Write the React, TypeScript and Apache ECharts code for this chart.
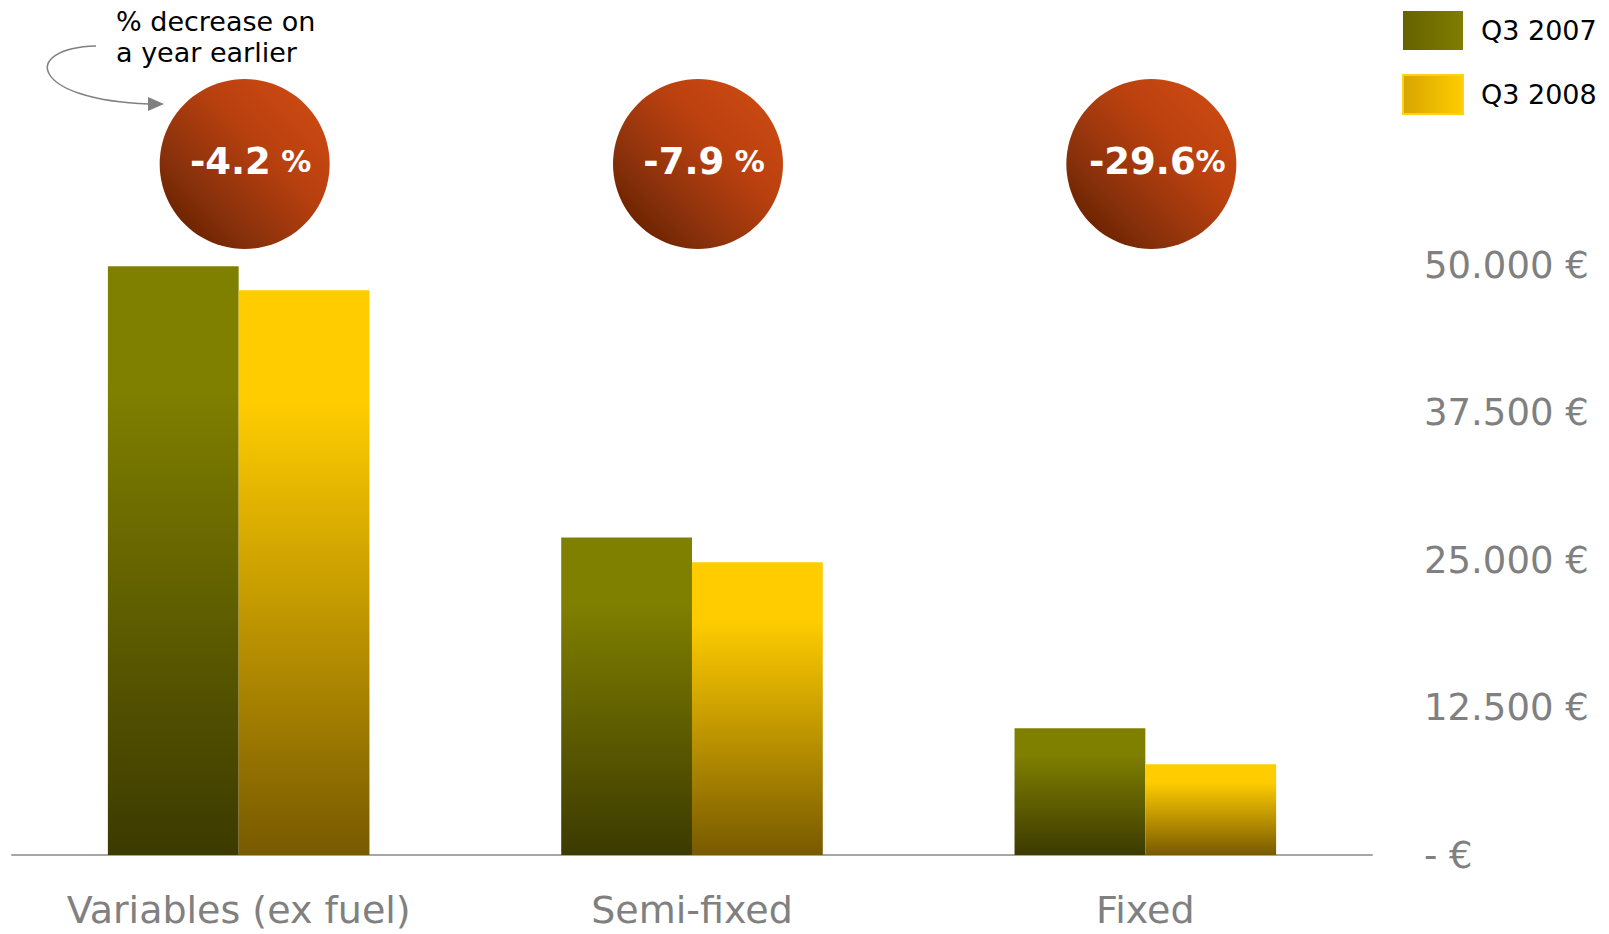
import React, { useEffect, useRef } from "react";
import * as echarts from "echarts";

const categories = ["Variables (ex fuel)", "Semi-fixed", "Fixed"];
const seriesNames = ["Q3 2007", "Q3 2008"];
const values2007 = [49900, 26900, 10750];
const values2008 = [47850, 24800, 7700];
const changeMain = ["-4.2", "-7.9", "-29.6"];
const changeUnit = [" %", " %", "%"];
const yTicks = [0, 12500, 25000, 37500, 50000];
const noteText = "% decrease on\na year earlier";

const fmtEuro = (v: number) => {
  if (v === 0) return "- €";
  return v.toLocaleString("de-DE") + " €";
};

export default function App() {
  const ref = useRef<HTMLDivElement>(null);
  useEffect(() => {
    if (!ref.current) return;
    const chart = echarts.init(ref.current, undefined, { renderer: "svg" });
    const grad = (top: string, bottom: string) =>
      new echarts.graphic.LinearGradient(0, 0, 0, 1, [
        { offset: 0, color: top },
        { offset: 0.2, color: top },
        { offset: 1, color: bottom },
      ]);
    const hgrad = (l: string, r: string) =>
      new echarts.graphic.LinearGradient(0, 0, 1, 0, [
        { offset: 0, color: l },
        { offset: 1, color: r },
      ]);
    chart.setOption({
      animation: false,
      backgroundColor: "#ffffff",
      textStyle: { fontFamily: "DejaVu Sans" },
      grid: { left: 12, right: 237, top: 265, bottom: 79, containLabel: false },
      legend: {
        orient: "vertical",
        left: 1402,
        top: 11,
        padding: 0,
        itemWidth: 60,
        itemHeight: 39,
        itemGap: 24,
        icon: "rect",
        selectedMode: false,
        textStyle: { fontSize: 27, color: "#000", fontFamily: "DejaVu Sans", padding: [0, 0, 0, 13] },
        data: [
          { name: seriesNames[0], itemStyle: { color: hgrad("#666200", "#807d00") } },
          {
            name: seriesNames[1],
            itemStyle: { color: hgrad("#d6a600", "#ffcc00"), borderColor: "#ffd21a", borderWidth: 2 },
          },
        ],
      },
      xAxis: {
        type: "category",
        data: categories,
        axisLine: { lineStyle: { color: "#a6a6a6", width: 2 } },
        axisTick: { show: false },
        axisLabel: {
          color: "#808080",
          fontSize: 38,
          lineHeight: 30,
          margin: 40,
          interval: 0,
          hideOverlap: false,
          fontFamily: "DejaVu Sans",
        },
      },
      yAxis: {
        type: "value",
        position: "right",
        min: yTicks[0],
        max: yTicks[yTicks.length - 1],
        interval: yTicks[1] - yTicks[0],
        splitLine: { show: false },
        axisLine: { show: false },
        axisTick: { show: false },
        axisLabel: {
          color: "#808080",
          fontSize: 37,
          margin: 52,
          align: "left",
          padding: [14, 0, 0, 0],
          fontFamily: "DejaVu Sans",
          formatter: (v: number) => fmtEuro(v),
        },
      },
      series: [
        {
          name: seriesNames[0],
          type: "bar",
          data: values2007,
          barGap: "0%",
          barCategoryGap: "42.3%",
          clip: false,
          itemStyle: { color: grad("#808000", "#3c3a00") },
        },
        {
          name: seriesNames[1],
          type: "bar",
          data: values2008,
          clip: false,
          itemStyle: { color: grad("#ffcc00", "#785a00") },
        },
      ],
    });

    const bubbleGrad = new echarts.graphic.LinearGradient(1, 0, 0, 1, [
      { offset: 0, color: "#d44d13" },
      { offset: 0.4, color: "#b8400f" },
      { offset: 0.72, color: "#86300b" },
      { offset: 0.85, color: "#702500" },
      { offset: 1, color: "#6a2200" },
    ]);
    const elements: any[] = [];
    categories.forEach((c, i) => {
      const cx = (chart.convertToPixel({ xAxisIndex: 0 }, c) as number) + 6;
      const cy = 164;
      elements.push({
        type: "circle",
        shape: { cx, cy, r: 85 },
        style: { fill: bubbleGrad },
        silent: true,
      });
      elements.push({
        type: "text",
        x: cx + 6,
        y: cy - 3,
        style: {
          text: `{a|${changeMain[i]}}{b|${changeUnit[i]}}`,
          align: "center",
          verticalAlign: "middle",
          fill: "#fff",
          rich: {
            a: { fontSize: 37, fontWeight: "bold", fill: "#fff", fontFamily: "DejaVu Sans" },
            b: { fontSize: 30, fontWeight: "bold", fill: "#fff", fontFamily: "DejaVu Sans" },
          },
        },
        silent: true,
      });
    });
    elements.push({
      type: "text",
      x: 116,
      y: 6,
      style: {
        text: noteText,
        fontSize: 27,
        lineHeight: 31,
        fill: "#000",
        fontFamily: "DejaVu Sans",
        align: "left",
        verticalAlign: "top",
      },
      silent: true,
    });
    elements.push({
      type: "bezierCurve",
      shape: { x1: 96, y1: 46, cpx1: 20, cpy1: 48, cpx2: 30, cpy2: 100, x2: 149, y2: 104 },
      style: { stroke: "#808080", lineWidth: 1.5, fill: null },
      silent: true,
    });
    elements.push({
      type: "polygon",
      shape: { points: [[148, 97], [164, 104], [148, 111]] },
      style: { fill: "#808080" },
      silent: true,
    });
    chart.setOption({ graphic: { elements } });
    return () => chart.dispose();
  }, []);
  return (
    <div
      ref={ref}
      style={{ position: "fixed", left: 0, top: 0, width: 1609, height: 934, background: "#fff" }}
    />
  );
}
